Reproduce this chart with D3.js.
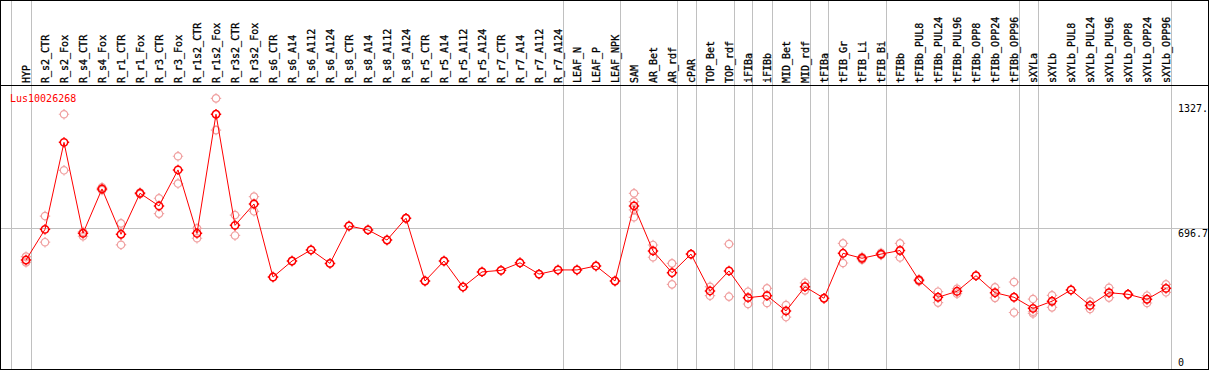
<!DOCTYPE html>
<html>
<head>
<meta charset="utf-8">
<script src="https://cdn.jsdelivr.net/npm/d3@7"></script>
<style>
  body { margin: 0; background: #fff; }
  svg { display: block; }
  text { font-family: "DejaVu Sans Mono", monospace; font-size: 10px; }
</style>
</head>
<body>
<svg id="chart"></svg>
<script>
const categories = [
  "HYP", "R_s2_CTR", "R_s2_Fox", "R_s4_CTR", "R_s4_Fox", "R_r1_CTR", "R_r1_Fox",
  "R_r3_CTR", "R_r3_Fox", "R_r1s2_CTR", "R_r1s2_Fox", "R_r3s2_CTR", "R_r3s2_Fox",
  "R_s6_CTR", "R_s6_A14", "R_s6_A112", "R_s6_A124", "R_s8_CTR", "R_s8_A14",
  "R_s8_A112", "R_s8_A124", "R_r5_CTR", "R_r5_A14", "R_r5_A112", "R_r5_A124",
  "R_r7_CTR", "R_r7_A14", "R_r7_A112", "R_r7_A124", "LEAF_N", "LEAF_P", "LEAF_NPK",
  "SAM", "AR_Bet", "AR_rdf", "cPAR", "TOP_Bet", "TOP_rdf", "iFIBa", "iFIBb",
  "MID_Bet", "MID_rdf", "tFIBa", "tFIB_Gr", "tFIB_Li", "tFIB_Bi", "tFIBb",
  "tFIBb_PUL8", "tFIBb_PUL24", "tFIBb_PUL96", "tFIBb_OPP8", "tFIBb_OPP24", "tFIBb_OPP96",
  "sXYLa", "sXYLb", "sXYLb_PUL8", "sXYLb_PUL24", "sXYLb_PUL96", "sXYLb_OPP8",
  "sXYLb_OPP24", "sXYLb_OPP96"
];

// mean expression per sample
const means = [
  535, 690, 1129, 670, 894, 665, 872, 808, 990, 670, 1271, 710, 818,
  449, 530, 586, 518, 707, 687, 636, 746, 429, 530, 399, 475,
  483, 521, 464, 485, 485, 505, 429,
  808, 581, 471, 565, 379, 480, 345, 355, 278, 400, 342,
  569, 544, 565, 583, 433, 347, 377, 456, 370, 347,
  291, 327, 384, 306, 370, 362, 337, 392
];

// individual replicates
const replicates = [
  [552, 523], [757, 625], [1271, 988], [678, 655], [902, 888], [720, 612], [876, 868],
  [847, 769], [1059, 921], [695, 645], [1351, 1191], [762, 659], [855, 781],
  [449], [530], [586], [518], [707], [687], [636], [746], [429], [530], [399], [475],
  [483], [521], [464], [485], [485], [505], [429],
  [872, 830, 788, 751], [611, 549], [518, 412], [565], [400, 355], [616, 350],
  [375, 313], [392, 318], [308, 247], [420, 382], [342],
  [619, 520], [550, 537], [571, 560], [619, 548], [438, 428], [375, 320], [390, 365],
  [456], [397, 344], [424, 270],
  [338, 274, 265], [357, 296], [384], [325, 288], [395, 345], [362], [355, 318], [412, 372]
];

// index of the last sample in each group (vertical separators)
const groupEnds = [-1, 0, 28, 31, 34, 35, 37, 38, 39, 41, 42, 45, 52, 53, 60];

const yTickValues = [0, 696.7, 1327];
const yTickLabels = ["0", "696.7", "1327."];
const geneName = "Lus10026268";

const W = 1209, H = 370;
const headerY = 85;
const step = 19;

const svg = d3.select("#chart").attr("width", W).attr("height", H);

const x = d3.scaleLinear()
  .domain([0, categories.length - 1])
  .range([26, 26 + step * (categories.length - 1)]);

const y = d3.scaleLinear()
  .domain([0, 696.7])
  .range([366, 228]);

// vertical group separators
svg.append("g")
  .selectAll("line")
  .data(groupEnds)
  .join("line")
  .attr("x1", d => Math.floor(x(d) + 5) + 0.5)
  .attr("x2", d => Math.floor(x(d) + 5) + 0.5)
  .attr("y1", 0)
  .attr("y2", H)
  .attr("stroke", "#c0c0c0")
  .attr("shape-rendering", "crispEdges");

// horizontal reference line (middle tick)
svg.append("line")
  .attr("x1", 0).attr("x2", W)
  .attr("y1", Math.round(y(yTickValues[1])) + 0.5)
  .attr("y2", Math.round(y(yTickValues[1])) + 0.5)
  .attr("stroke", "#c0c0c0")
  .attr("shape-rendering", "crispEdges");

// frame and header separator
svg.append("rect")
  .attr("x", 0.5).attr("y", 0.5)
  .attr("width", W - 1.5).attr("height", H - 1)
  .attr("fill", "none")
  .attr("stroke", "#000")
  .attr("shape-rendering", "crispEdges");

svg.append("line")
  .attr("x1", 0).attr("x2", W)
  .attr("y1", headerY + 0.5).attr("y2", headerY + 0.5)
  .attr("stroke", "#000")
  .attr("shape-rendering", "crispEdges");

// rotated sample names
svg.append("g")
  .selectAll("text")
  .data(categories)
  .join("text")
  .attr("transform", (d, i) => `translate(${x(i) + 4.1},83) rotate(-90)`)
  .attr("fill", "#000")
  .attr("stroke", "#000")
  .attr("stroke-width", 0.3)
  .text(d => d);

// y labels on the right
svg.append("g")
  .selectAll("text")
  .data(yTickValues)
  .join("text")
  .attr("x", 1178)
  .attr("y", (d, i) => i === 0 ? y(d) - 0.5 : y(d) + 8.5)
  .attr("fill", "#000")
  .text((d, i) => yTickLabels[i]);

// gene name
svg.append("text")
  .attr("x", 10)
  .attr("y", 101.5)
  .attr("fill", "#ff0000")
  .text(geneName);

const marker = "M-3.7,0a3.7,3.7 0 1,0 7.4,0a3.7,3.7 0 1,0 -7.4,0M0,-4.3V-5.2M0,4.3V5.2M-4.3,0H-5.2M4.3,0H5.2";

// replicate points
const repPoints = [];
replicates.forEach((reps, i) => reps.forEach(v => repPoints.push({ i, v })));

svg.append("g")
  .selectAll("path")
  .data(repPoints)
  .join("path")
  .attr("d", marker)
  .attr("transform", d => `translate(${x(d.i)},${y(d.v)})`)
  .attr("fill", "none")
  .attr("stroke", "#f0a0a0")
  .attr("stroke-width", 1.2);

// mean line
const line = d3.line()
  .x((d, i) => x(i))
  .y(d => y(d));

svg.append("path")
  .datum(means)
  .attr("d", line)
  .attr("fill", "none")
  .attr("stroke", "#ff0000")
  .attr("stroke-width", 1);

// mean markers
svg.append("g")
  .selectAll("path")
  .data(means)
  .join("path")
  .attr("d", marker)
  .attr("transform", (d, i) => `translate(${x(i)},${y(d)})`)
  .attr("fill", "none")
  .attr("stroke", "#ff0000")
  .attr("stroke-width", 1.5);
</script>
</body>
</html>
